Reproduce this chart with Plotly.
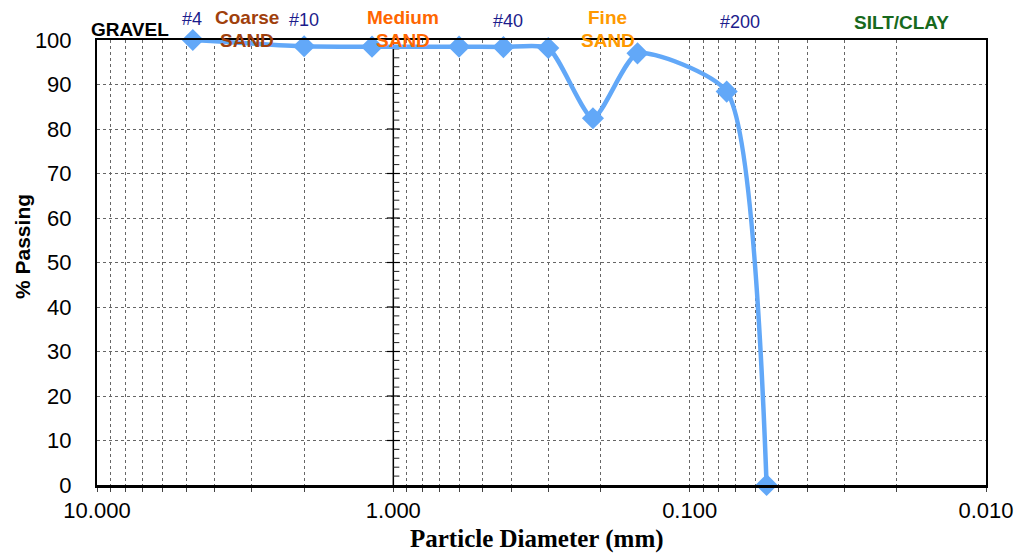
import plotly.graph_objects as go

# ---- data ----
diam_mm = [4.75, 2.0, 1.18, 0.6, 0.425, 0.3, 0.212, 0.15, 0.075, 0.055]
pct_passing = [100.0, 98.6, 98.5, 98.5, 98.4, 98.2, 82.4, 97.0, 88.4, 0.0]

x_major_vals = [10, 1, 0.1, 0.01]
x_major_text = ["10.000", "1.000", "0.100", "0.010"]
y_ticks = list(range(0, 101, 10))
y_minor_ticks = [v for v in range(2, 100, 2) if v % 10]
cross_x = 1.0  # value axis crosses the log axis at 1.000 mm

x_title = "Particle Diameter (mm)"
y_title = "% Passing"

labels = ["GRAVEL", "#4", "Coarse", "SAND", "#10", "Medium", "SAND", "#40",
          "Fine", "SAND", "#200", "SILT/CLAY"]
label_colors = ["#000000", "#1c1c8c", "#a0400c", "#a0400c", "#1c1c8c", "#ff6600",
                "#ff6600", "#1c1c8c", "#ff9900", "#ff9900", "#1c1c8c", "#17691d"]
label_bold = [True, False, True, True, False, True, True, False, True, True, False, True]
label_px = [130, 192, 247, 247, 304, 403, 403, 508, 607, 608, 740, 901]
label_py = [30, 18.5, 17.5, 40, 20, 17.5, 40, 21.5, 17.5, 40, 22, 22]

# ---- layout geometry (page pixels; body margin removed below) ----
W, H = 1017, 554
PX0, PX1, PY0, PY1 = 97, 986, 40, 485          # plot area
L, T, R, B = PX0, PY0, W - PX1, H - PY1
pw, ph = PX1 - PX0, PY1 - PY0
px_per_decade = pw / 3.0

# all gridline positions on log axis
grid_vals, grid_text = [], []
for dec in [1, 0.1, 0.01]:
    for m in range(1, 10):
        v = round(m * dec, 6)
        grid_vals.append(v)
        grid_text.append("")
grid_vals.append(10)
grid_text.append("")
for v, t in zip(x_major_vals, x_major_text):
    grid_text[grid_vals.index(v)] = t

# tick marks of the crossing value axis (lengths in px converted to log-axis factors)
f_maj = 10 ** (6.5 / px_per_decade)
f_min = 10 ** (6.0 / px_per_decade)
maj_x, maj_y, min_x, min_y = [], [], [], []
for v in y_ticks[1:-1]:
    maj_x += [cross_x * f_maj, cross_x / f_maj, None]
    maj_y += [v, v, None]
for v in y_minor_ticks:
    min_x += [cross_x, cross_x / f_min, None]
    min_y += [v, v, None]

line_color = "#62a8f8"

fig = go.Figure()
# crossing value axis at 1.000
fig.add_trace(go.Scatter(x=[cross_x, cross_x], y=[y_ticks[0], y_ticks[-1]], mode="lines",
                         line=dict(color="black", width=1.5), showlegend=False,
                         hoverinfo="skip"))
fig.add_trace(go.Scatter(x=maj_x, y=maj_y, mode="lines", line=dict(color="black", width=1.2),
                         showlegend=False, hoverinfo="skip", cliponaxis=False))
fig.add_trace(go.Scatter(x=min_x, y=min_y, mode="lines", line=dict(color="#222", width=1),
                         showlegend=False, hoverinfo="skip", cliponaxis=False))

fig.add_trace(go.Scatter(
    x=diam_mm, y=pct_passing, mode="lines+markers",
    line=dict(color=line_color, width=4.5, shape="spline", smoothing=0.6),
    marker=dict(symbol="diamond", size=17, color=line_color),
    cliponaxis=False, showlegend=False, hoverinfo="x+y",
))

grid_color = "#666666"
fig.update_layout(
    width=W, height=H,
    margin=dict(l=L, r=R, t=T, b=B, autoexpand=False),
    paper_bgcolor="white", plot_bgcolor="white",
    hovermode=False,
    font=dict(family="Liberation Sans, Arial", color="black"),
    xaxis=dict(
        type="log", range=[1, -2], automargin=False,
        tickvals=grid_vals, ticktext=grid_text,
        tickfont=dict(size=22, family="Liberation Sans, Arial"),
        ticks="outside", ticklen=4, tickcolor="#444",
        showgrid=True, gridcolor=grid_color, griddash="dot", gridwidth=1,
        showline=True, linecolor="black", linewidth=2.5, mirror=True,
        zeroline=False,
    ),
    yaxis=dict(
        range=[0, 100], tickvals=y_ticks, automargin=False,
        tickfont=dict(size=22),
        ticks="", showgrid=True, gridcolor=grid_color, griddash="dot", gridwidth=1,
        showline=True, linecolor="black", linewidth=2, mirror=True,
        zeroline=False, ticklabelstandoff=19,
    ),
)

# axis titles
fig.add_annotation(text=f"<b>{x_title}</b>", xref="paper", yref="paper",
                   x=(537 - PX0) / pw, y=(PY1 - 539) / ph,
                   xanchor="center", yanchor="middle", showarrow=False,
                   font=dict(family="Liberation Serif, Times New Roman", size=25))
fig.add_annotation(text=f"<b>{y_title}</b>", xref="paper", yref="paper",
                   x=(22 - PX0) / pw, y=(PY1 - 247) / ph, textangle=-90,
                   xanchor="center", yanchor="middle", showarrow=False,
                   font=dict(size=21))

for txt, col, bold, px, py in zip(labels, label_colors, label_bold, label_px, label_py):
    fig.add_annotation(
        text=f"<b>{txt}</b>" if bold else txt,
        xref="paper", yref="paper",
        x=(px - PX0) / pw, y=(PY1 - py) / ph,
        xanchor="center", yanchor="middle", showarrow=False,
        font=dict(size=19 if bold else 18, color=col, family="Liberation Sans, Arial"),
    )

fig.write_html(
    "out.html",
    config={"displayModeBar": False, "staticPlot": True},
    post_script="document.body.style.margin='0px';"
                "document.documentElement.style.overflow='hidden';",
)
